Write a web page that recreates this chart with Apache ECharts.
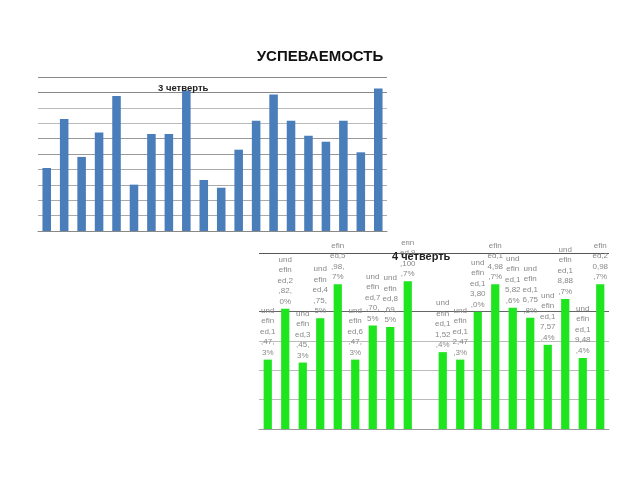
<!DOCTYPE html>
<html>
<head>
<meta charset="utf-8">
<script src="https://cdn.jsdelivr.net/npm/echarts@6/dist/echarts.min.js"></script>
<style>
html,body{margin:0;padding:0;background:#fff;width:640px;height:480px;overflow:hidden;}
#c1{position:absolute;left:0;top:0;width:640px;height:480px;}
#c2{position:absolute;left:0;top:241px;width:640px;height:239px;}
</style>
</head>
<body>
<div id="c1"></div>
<div id="c2"></div>
<script>
const pageTitle = 'УСПЕВАЕМОСТЬ';
const title3 = '3 четверть';
const title4 = '4 четверть';
const categories = ['1','2','3','4','5','6','7','8','9','10','11','12','13','14','15','16','17','18','19','20'];
const quarter3 = [40.9, 72.7, 48.1, 63.9, 87.7, 30.1, 63.0, 63.0, 91.3, 33.1, 28.1, 52.8, 71.6, 88.7, 71.6, 61.9, 58.0, 71.6, 51.1, 92.6];
const quarter4 = [47.3, 82.0, 45.3, 75.5, 98.7, 47.3, 70.5, 69.5, 100.7, null, 52.4, 47.3, 80.0, 98.7, 82.6, 75.8, 57.4, 88.7, 48.4, 98.7];

function chunk(s){
  const parts = [s.slice(0,3)];
  for (let i = 3; i < s.length; i += 4) parts.push(s.slice(i, i + 4));
  return parts.join('\n');
}

const c1 = echarts.init(document.getElementById('c1'));
c1.setOption({
  animation:false,
  title:[
    {text:pageTitle,left:'center',top:44,textStyle:{fontFamily:'Liberation Sans, Arial',fontSize:15,fontWeight:'bold',color:'#111'}},
    {text:title3,left:153,top:78,textStyle:{fontFamily:'Liberation Sans, Arial',fontSize:9.5,fontWeight:'bold',color:'#222'}}
  ],
  grid:{left:38,top:77,width:349,height:154},
  xAxis:{type:'category',data:categories,axisTick:{show:false},axisLabel:{show:false},
    axisLine:{lineStyle:{color:'#888',width:1}}},
  yAxis:{type:'value',min:0,max:100,interval:10,axisLabel:{show:false},axisLine:{show:false},axisTick:{show:false},
    splitLine:{lineStyle:{color:['#888','#aaa','#aaa','#aaa','#aaa','#999','#999','#bbb','#bbb','#888','#888'],width:1}}},
  series:[{type:'bar',data:quarter3,barWidth:'49%',itemStyle:{color:'#4a7ebb'}}]
});

const c2 = echarts.init(document.getElementById('c2'));
c2.setOption({
  animation:false,
  title:{text:title4,left:387,top:5,textStyle:{fontFamily:'Liberation Sans, Arial',fontSize:11,fontWeight:'bold',color:'#222'}},
  grid:{left:259,top:12,width:350,height:176},
  xAxis:{type:'category',data:categories,axisTick:{show:false},axisLabel:{show:false},
    axisLine:{lineStyle:{color:'#999',width:1}}},
  yAxis:{type:'value',min:0,max:120,interval:20,axisLabel:{show:false},axisLine:{show:false},axisTick:{show:false},
    splitLine:{lineStyle:{color:['#999','#bbb','#bbb','#bbb','#666','rgba(0,0,0,0)','#555'],width:1}}},
  series:[{type:'bar',data:quarter4,barWidth:'47%',itemStyle:{color:'#1ee51e'},
    label:{show:true,position:'top',distance:2,color:'#888',fontFamily:'Liberation Sans, Arial',fontSize:8,lineHeight:10.5,align:'center',
      formatter:function(p){
        return chunk('undefined,' + categories[p.dataIndex] + ',' + p.value.toFixed(1).replace('.', ',') + '%');
      }}}]
});
</script>
</body>
</html>
